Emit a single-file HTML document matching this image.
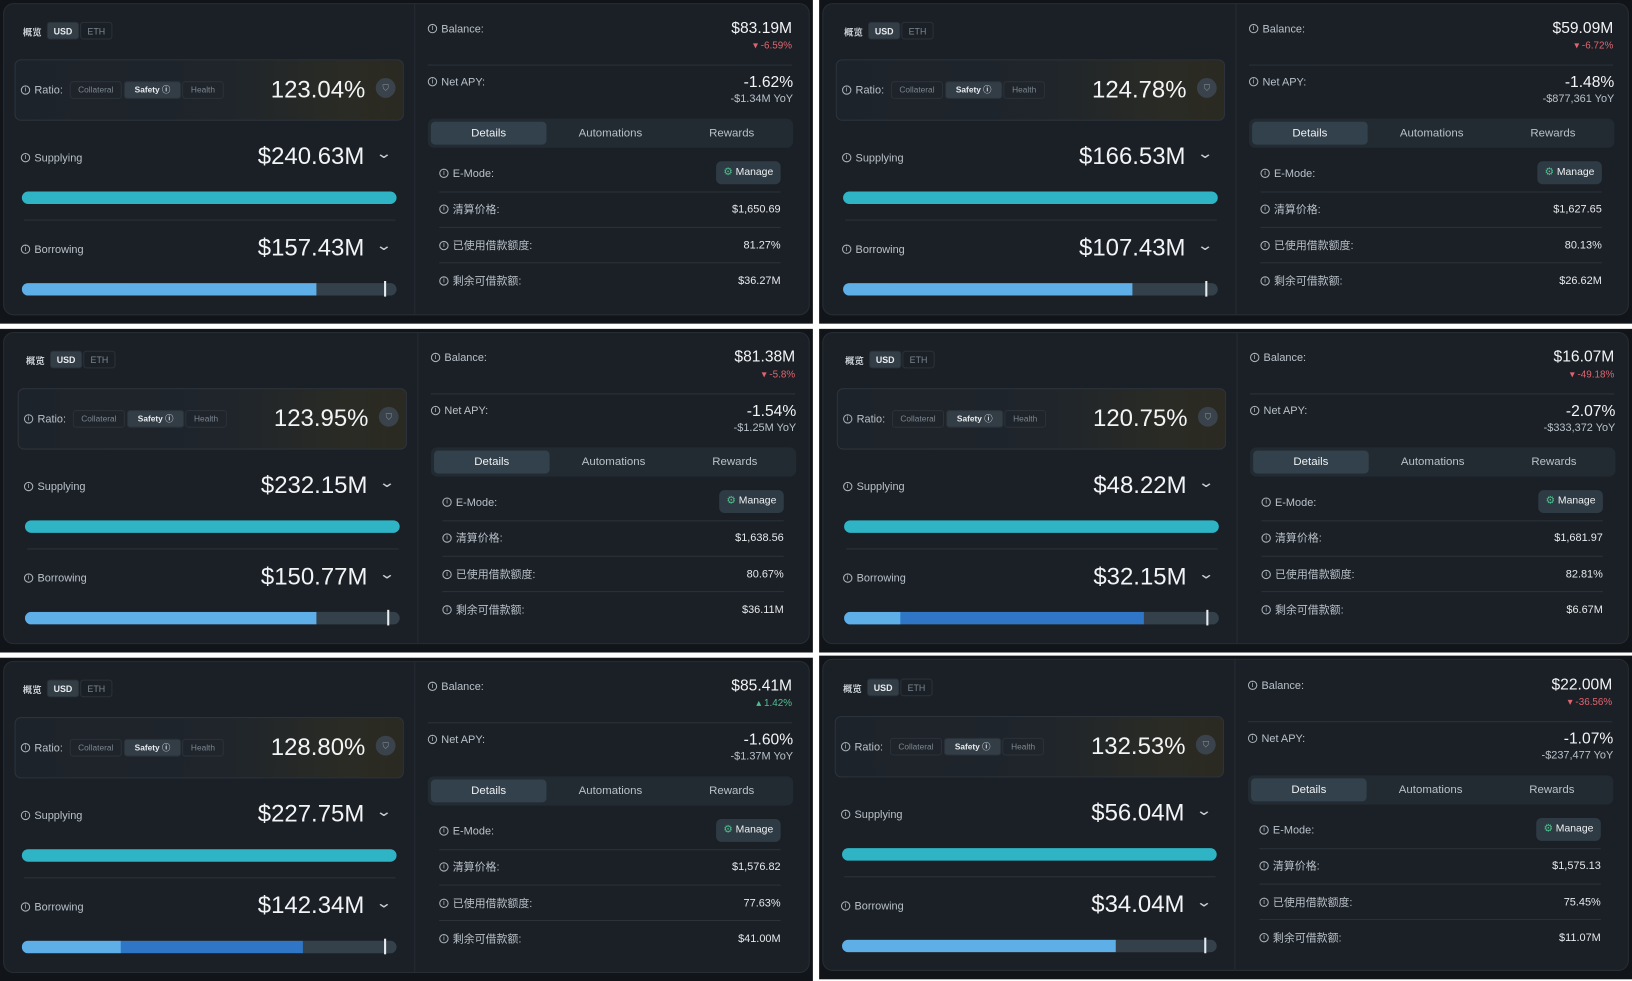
<!DOCTYPE html>
<html><head><meta charset="utf-8">
<style>
html,body{margin:0;padding:0;background:#fff;width:1632px;height:972px;overflow:hidden}
#wrap{position:absolute;left:0;top:0;width:1568px;height:934px;transform:scale(1.04082,1.04069);transform-origin:0 0;background:#fff}
*{box-sizing:border-box}
.tile{position:absolute;width:781px;height:311px;background:#111519;font-family:"Liberation Sans","Noto Sans CJK SC",sans-serif;color:#c9d0d6}
.card{position:absolute;left:3px;top:3px;width:775px;height:300px;background:#1b2027;border:1px solid #272d34;border-radius:10px}
.a{position:absolute;white-space:nowrap}
.vdiv{position:absolute;left:398px;top:3px;width:1px;height:300px;background:#262c33}
.lbl{font-size:10.5px;color:#b9c1c8;transform:translateY(-50%)}
.ii{display:inline-block;width:9px;height:9px;border:1px solid #aab2b9;border-radius:50%;font-size:7px;line-height:7px;text-align:center;margin-right:4px;vertical-align:middle;position:relative;top:-1px}
.big{font-size:23px;color:#f2f4f6;transform:translate(-100%,-50%)}
.seg{font-size:8.5px;color:#7d8790;height:17px;line-height:16px;text-align:center;border:1px solid #2a3138;border-radius:3px}
.hr{position:absolute;height:1px;background:#2b3239}
.val{font-size:10.5px;color:#e6e9ec;transform:translate(-100%,-50%)}
</style></head><body>
<div id="wrap"></div>
<script>
const offsetsX=[0,789,3,790,0,788];
const tileLeft=[0,787,0,787,0,787];
const tileTop=[0,0,316,316,632,630];
const ratios=["123.04%","124.78%","123.95%","120.75%","128.80%","132.53%"];
const supplying=["$240.63M","$166.53M","$232.15M","$48.22M","$227.75M","$56.04M"];
const borrowing=["$157.43M","$107.43M","$150.77M","$32.15M","$142.34M","$34.04M"];
const borrowLight=[0.786,0.772,0.777,0.15,0.264,0.73];
const borrowDark=[0,0,0,0.80,0.75,0];
const balances=["$83.19M","$59.09M","$81.38M","$16.07M","$85.41M","$22.00M"];
const balChange=["-6.59%","-6.72%","-5.8%","-49.18%","1.42%","-36.56%"];
const netApy=["-1.62%","-1.48%","-1.54%","-2.07%","-1.60%","-1.07%"];
const yoy=["-$1.34M YoY","-$877,361 YoY","-$1.25M YoY","-$333,372 YoY","-$1.37M YoY","-$237,477 YoY"];
const liqPrice=["$1,650.69","$1,627.65","$1,638.56","$1,681.97","$1,576.82","$1,575.13"];
const usedBorrow=["81.27%","80.13%","80.67%","82.81%","77.63%","75.45%"];
const remaining=["$36.27M","$26.62M","$36.11M","$6.67M","$41.00M","$11.07M"];

const wrap=document.getElementById('wrap');
const I='<span class="ii">i</span>';
for(let i=0;i<6;i++){
  const t=document.createElement('div');
  t.className='tile';
  
  
  t.style.left=tileLeft[i]+'px';t.style.top=tileTop[i]+'px';
  const dx=offsetsX[i]-tileLeft[i]; const dy=(i===5)?1:0;
  const W=360, bx=21;
  const up=!balChange[i].startsWith('-');
  const lw=borrowLight[i]*W, dw=borrowDark[i]*W;
  t.innerHTML=`
  <div class="card"></div>
  <div class="vdiv" style="left:${398+dx}px"></div>
  <div style="position:absolute;left:${dx}px;top:${dy}px;width:781px;height:311px">
   <div class="a" style="left:22px;top:24px;font-size:9px;font-weight:bold;color:#c9d0d6">概览</div>
   <div class="a seg" style="left:45px;top:21px;width:31px;background:#333d46;color:#e8ecef;font-weight:bold">USD</div>
   <div class="a seg" style="left:77px;top:21px;width:31px">ETH</div>
   <div class="a" style="left:14px;top:57px;width:374px;height:59px;border:1px solid #2c333a;border-radius:6px;background:linear-gradient(90deg,#1d232a 0%,#1f252b 55%,#2a2b24 85%,#2b2a22 100%)"></div>
   <div class="a lbl" style="left:20px;top:87px">${I}Ratio:</div>
   <div class="a seg" style="left:67px;top:78px;width:50px;font-size:8px">Collateral</div>
   <div class="a seg" style="left:119px;top:78px;width:55px;background:#333d46;color:#e8ecef;font-weight:bold;font-size:8px">Safety ⓘ</div>
   <div class="a seg" style="left:175px;top:78px;width:40px;font-size:8px">Health</div>
   <div class="a big" style="left:351px;top:86px">${ratios[i]}</div>
   <div class="a" style="left:361px;top:75px;width:19px;height:19px;border-radius:50%;background:#3a434b;color:#8d979f;font-size:8px;text-align:center;line-height:19px">⛉</div>
   <div class="a lbl" style="left:20px;top:152px">${I}Supplying</div>
   <div class="a big" style="left:350px;top:150px">${supplying[i]}</div>
   <div class="a" style="left:363px;top:139px;font-size:14px;color:#c9d0d6;transform:scaleX(1.4)">⌄</div>
   <div class="a" style="left:${bx}px;top:184px;width:${W}px;height:12px;border-radius:6px;background:#2fb4c5"></div>
   <div class="hr" style="left:23px;top:211px;width:357px"></div>
   <div class="a lbl" style="left:20px;top:240px">${I}Borrowing</div>
   <div class="a big" style="left:350px;top:238px">${borrowing[i]}</div>
   <div class="a" style="left:363px;top:227px;font-size:14px;color:#c9d0d6;transform:scaleX(1.4)">⌄</div>
   <div class="a" style="left:${bx}px;top:272px;width:${W}px;height:12px;border-radius:6px;background:#34414b;overflow:hidden">
     <div class="a" style="left:0;top:0;width:${dw}px;height:12px;background:#2f77c6"></div>
     <div class="a" style="left:0;top:0;width:${lw}px;height:12px;background:#5eaee8"></div>
   </div>
   <div class="a" style="left:${bx+W*0.967}px;top:270px;width:2px;height:15px;background:#e8ecef"></div>

   <div class="a lbl" style="left:411px;top:28px">${I}Balance:</div>
   <div class="a" style="left:761px;top:27px;font-size:15px;color:#f2f4f6;transform:translate(-100%,-50%)">${balances[i]}</div>
   <div class="a" style="left:761px;top:44px;font-size:9.5px;color:${up?'#4fc08d':'#e0646e'};transform:translate(-100%,-50%)">${up?'▴':'▾'} ${balChange[i]}</div>
   <div class="hr" style="left:411px;top:62px;width:350px"></div>
   <div class="a lbl" style="left:411px;top:79px">${I}Net APY:</div>
   <div class="a" style="left:762px;top:79px;font-size:15px;color:#f2f4f6;transform:translate(-100%,-50%)">${netApy[i]}</div>
   <div class="a" style="left:762px;top:95px;font-size:10.5px;color:#b9c1c8;transform:translate(-100%,-50%)">${yoy[i]}</div>
   <div class="a" style="left:411px;top:114px;width:351px;height:28px;border-radius:6px;background:#232b32"></div>
   <div class="a" style="left:414px;top:117px;width:111px;height:22px;border-radius:4px;background:#33414c;font-size:11px;color:#eef1f3;text-align:center;line-height:22px">Details</div>
   <div class="a" style="left:529px;top:117px;width:115px;height:22px;font-size:11px;color:#b9c1c8;text-align:center;line-height:22px">Automations</div>
   <div class="a" style="left:646px;top:117px;width:114px;height:22px;font-size:11px;color:#b9c1c8;text-align:center;line-height:22px">Rewards</div>
   <div class="a lbl" style="left:422px;top:167px">${I}E-Mode:</div>
   <div class="a" style="left:688px;top:155px;width:62px;height:22px;border-radius:5px;background:#2f3b44;font-size:10px;color:#eef1f3;line-height:22px;text-align:center"><span style="color:#4fc08d">⚙</span> Manage</div>
   <div class="hr" style="left:422px;top:184px;width:328px"></div>
   <div class="a lbl" style="left:422px;top:201px">${I}清算价格:</div>
   <div class="a val" style="left:750px;top:201px">${liqPrice[i]}</div>
   <div class="hr" style="left:422px;top:218px;width:328px"></div>
   <div class="a lbl" style="left:422px;top:236px">${I}已使用借款额度:</div>
   <div class="a val" style="left:750px;top:236px">${usedBorrow[i]}</div>
   <div class="hr" style="left:422px;top:252px;width:328px"></div>
   <div class="a lbl" style="left:422px;top:270px">${I}剩余可借款额:</div>
   <div class="a val" style="left:750px;top:270px">${remaining[i]}</div>
  </div>`;
  wrap.appendChild(t);
}
</script>
</body></html>
